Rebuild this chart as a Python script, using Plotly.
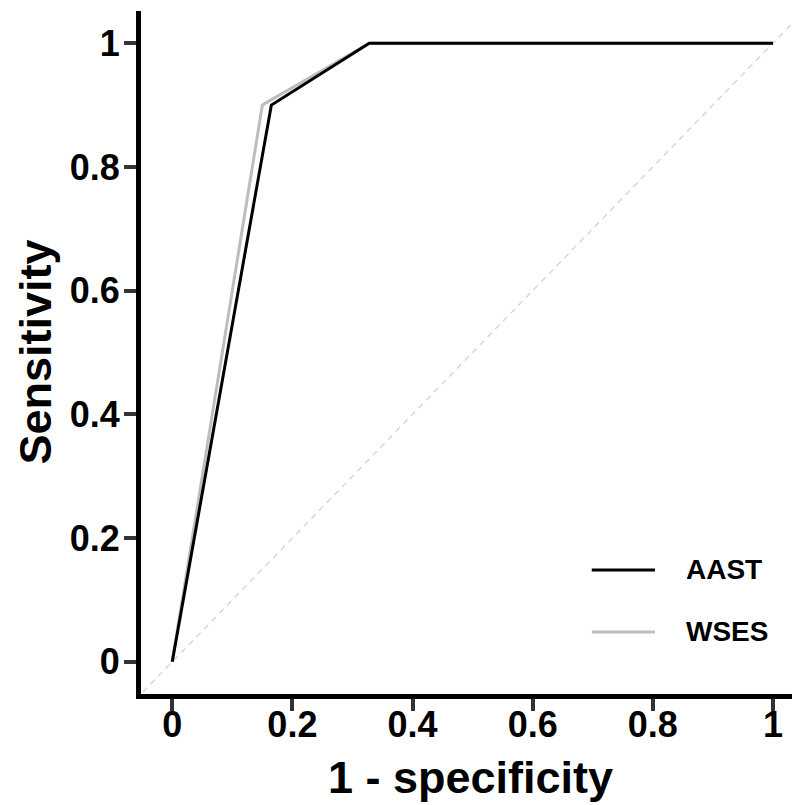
import plotly.graph_objects as go

# ROC curve data (1 - specificity, sensitivity)
aast_fpr = [0, 0.165, 0.328, 1]
aast_tpr = [0, 0.9, 1, 1]
wses_fpr = [0, 0.15, 0.328, 1]
wses_tpr = [0, 0.9, 1, 1]
diag = [-0.1, 1.1]

tick_vals = [0, 0.2, 0.4, 0.6, 0.8, 1]
tick_text = ["0", "0.2", "0.4", "0.6", "0.8", "1"]
series_names = ["AAST", "WSES"]
series_colors = ["#000000", "#bdbdbd"]

FONT = "Liberation Sans, Arial, sans-serif"

fig = go.Figure()
fig.add_trace(go.Scatter(x=diag, y=diag, mode="lines",
                         line=dict(color="#cfcfcf", width=1.2, dash="6px,5px"),
                         showlegend=False, hoverinfo="skip"))
fig.add_trace(go.Scatter(x=wses_fpr, y=wses_tpr, mode="lines", name=series_names[1],
                         line=dict(color=series_colors[1], width=3), showlegend=False))
fig.add_trace(go.Scatter(x=aast_fpr, y=aast_tpr, mode="lines", name=series_names[0],
                         line=dict(color=series_colors[0], width=3), showlegend=False))

# custom legend (paper coordinates)
leg_y = [0.1816, 0.0908]
for name, color, yy in zip(series_names, series_colors, leg_y):
    fig.add_shape(type="line", xref="paper", yref="paper",
                  x0=0.684, x1=0.78, y0=yy, y1=yy,
                  line=dict(color=color, width=3))
    fig.add_annotation(xref="paper", yref="paper", x=0.824, y=yy, text=name,
                       showarrow=False, xanchor="left", yanchor="middle",
                       font=dict(family=FONT, size=28, color="#000000", weight="bold"))

# axis titles
fig.add_annotation(xref="paper", yref="paper", x=0.5, y=0, yshift=-83,
                   text="1 - specificity", showarrow=False,
                   xanchor="center", yanchor="middle",
                   font=dict(family=FONT, size=45, color="#000000", weight="bold"))
fig.add_annotation(xref="paper", yref="paper", x=0, y=0.5, xshift=-106,
                   text="Sensitivity", showarrow=False, textangle=-90,
                   xanchor="center", yanchor="middle",
                   font=dict(family=FONT, size=45, color="#000000", weight="bold"))

axis_common = dict(
    showline=True, linecolor="#000000", linewidth=5,
    ticks="outside", ticklen=12, tickwidth=4, tickcolor="#333333",
    showgrid=False, zeroline=False, automargin=False,
    tickvals=tick_vals, ticktext=tick_text,
    tickfont=dict(family=FONT, size=36, color="#000000", weight="bold"),
)

fig.update_layout(
    width=792, height=797,
    margin=dict(l=133, r=0, t=3, b=111),
    plot_bgcolor="#ffffff", paper_bgcolor="#ffffff",
    xaxis=dict(range=[-0.052, 1.045], ticklabelstandoff=-17, **axis_common),
    yaxis=dict(range=[-0.052, 1.052], ticklabelstandoff=-3, **axis_common),
)

fig.write_html("out.html")
